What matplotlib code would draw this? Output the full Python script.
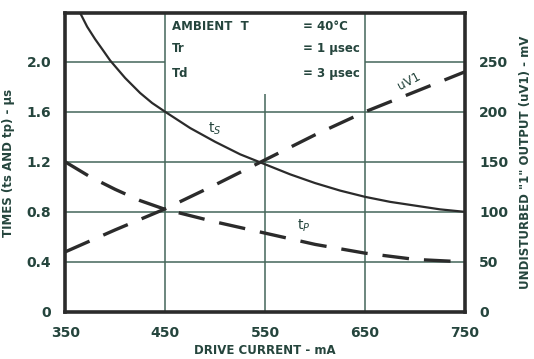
import numpy as np
import matplotlib.pyplot as plt

# drive current (mA) and curve values
ts_x = [365, 372, 380, 388, 395, 410, 425, 437, 450, 475, 500, 525, 550, 575, 600, 625, 650, 675, 700, 725, 750]
ts_y = [2.39, 2.28, 2.18, 2.09, 2.01, 1.87, 1.75, 1.67, 1.60, 1.47, 1.36, 1.26, 1.18, 1.10, 1.03, 0.97, 0.92, 0.88, 0.85, 0.82, 0.80]
tp_x = [350, 375, 400, 425, 450, 500, 550, 600, 650, 700, 750]
tp_y = [1.2, 1.08, 0.98, 0.89, 0.82, 0.72, 0.63, 0.54, 0.47, 0.42, 0.40]
uv_x = [350, 400, 450, 500, 550, 600, 650, 700, 750]
uv_mv = [60, 82, 103, 127, 152, 177, 200, 220, 240]

xticks = [350, 450, 550, 650, 750]
yticks = [0, 0.4, 0.8, 1.2, 1.6, 2.0]
yticklabels = ['0', '0.4', '0.8', '1.2', '1.6', '2.0']
rticks = [0, 50, 100, 150, 200, 250]

ink = '#2b2b2b'
grid = '#44665a'
txt = '#25453d'
plt.rcParams['font.family'] = ['DejaVu Sans']

fig = plt.figure(figsize=(5.34, 3.59), dpi=100)
ax = fig.add_axes([0.122, 0.131, 0.749, 0.833])
ax.set_xlim(350, 750)
ax.set_ylim(0, 2.39)

# grid with a blank box for the conditions text
for x in xticks[1:-1]:
    top = 1.74 if x == 550 else 2.39
    ax.vlines(x, 0, top, color=grid, lw=1.1, zorder=1)
for y in yticks[1:]:
    if y == 2.0:
        ax.hlines(y, 350, 450, color=grid, lw=1.1, zorder=1)
        ax.hlines(y, 650, 750, color=grid, lw=1.1, zorder=1)
    else:
        ax.hlines(y, 350, 750, color=grid, lw=1.1, zorder=1)

ax.plot(ts_x, ts_y, color=ink, lw=1.6, zorder=3)
ax.plot(tp_x, tp_y, color=ink, lw=2.4, dashes=(8, 4.5), zorder=3)
uv = np.array(uv_mv) / 125.0
ax.plot(uv_x, uv, color=ink, lw=2.4, dashes=(8, 4.5), zorder=3)

ax.text(493, 1.43, 't$_S$', color=txt, fontsize=10)
ax.text(582, 0.66, 't$_P$', color=txt, fontsize=10)
ax.text(680, 1.78, 'uV1', color=txt, fontsize=9, rotation=28)

kw = dict(color=txt, fontsize=8.5, fontweight='bold')
ax.text(457, 2.25, 'AMBIENT  T', **kw)
ax.text(588, 2.25, '= 40°C', **kw)
ax.text(457, 2.08, 'Tr', **kw)
ax.text(588, 2.08, '= 1 μsec', **kw)
ax.text(457, 1.88, 'Td', **kw)
ax.text(588, 1.88, '= 3 μsec', **kw)

for s in ax.spines.values():
    s.set_linewidth(2.6)
    s.set_color(ink)
    s.set_zorder(4)

ax.set_xticks(xticks)
ax.set_yticks(yticks)
ax.set_yticklabels(yticklabels)
ax.tick_params(length=0, colors=txt, labelsize=10, pad=10)
for lab in ax.get_xticklabels() + ax.get_yticklabels():
    lab.set_fontweight('bold')
ax.set_xlabel('DRIVE CURRENT - mA', color=txt, fontsize=8.5, fontweight='bold', labelpad=3)
ax.set_ylabel('TIMES (ts AND tp) - μs', color=txt, fontsize=8.5, fontweight='bold', labelpad=8)

ax2 = ax.twinx()
ax2.set_ylim(0, 2.39 * 125)
ax2.set_yticks(rticks)
ax2.tick_params(length=0, colors=txt, labelsize=10, pad=10)
for lab in ax2.get_yticklabels():
    lab.set_fontweight('bold')
for s in ax2.spines.values():
    s.set_visible(False)
ax2.set_ylabel('UNDISTURBED "1" OUTPUT (uV1) - mV', color=txt, fontsize=8.5,
               fontweight='bold', rotation=90, labelpad=8)

fig.savefig('out.png', dpi=100)
